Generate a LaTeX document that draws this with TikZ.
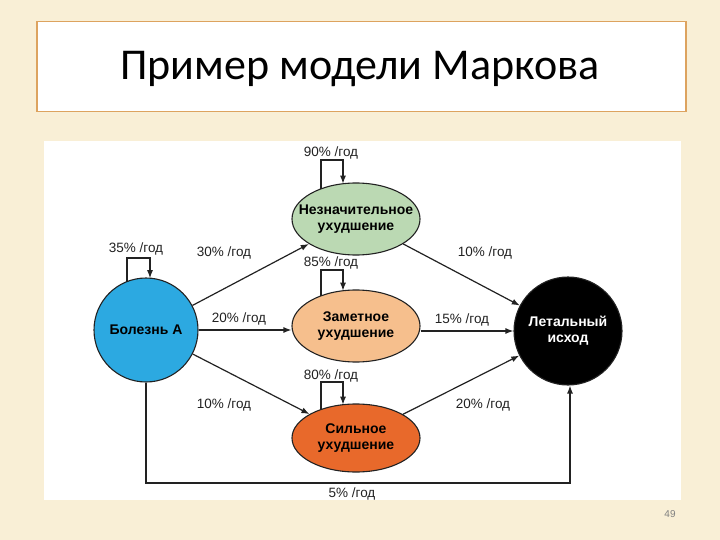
\documentclass[tikz,border=0pt]{standalone}
\usepackage{fontspec}
\setmainfont{Liberation Sans}
\newfontfamily\titlefont{Carlito}
\usetikzlibrary{arrows.meta,calc,shapes.geometric}
\definecolor{cream}{HTML}{F9EFD6}
\definecolor{framec}{HTML}{DDA35F}
\definecolor{blueA}{HTML}{2CA9E1}
\definecolor{greenA}{HTML}{BBD9B3}
\definecolor{peachA}{HTML}{F6BF8D}
\definecolor{orangeA}{HTML}{E8692B}
\definecolor{edgec}{HTML}{222222}
\tikzset{
  state/.style={draw=edgec,line width=1.1pt,align=center,inner sep=0pt,
    font=\fontsize{14}{16}\selectfont\bfseries},
  ellstate/.style={state,ellipse,inner xsep=-14pt,minimum width=128pt,minimum height=72pt},
  circstate/.style={state,circle,minimum size=104pt},
  conn/.style={draw=edgec,line width=1.2pt,-{Latex[length=8pt,width=6pt]}},
  lab/.style={font=\fontsize{13.5}{15}\selectfont,text=edgec,inner sep=0pt}
}
\begin{document}
\begin{tikzpicture}[x=1pt,y=-1pt]
\useasboundingbox (0,0) rectangle (720,540);
\fill[cream] (0,0) rectangle (720,540);
% title
\node[draw=framec,line width=1.5pt,fill=white,minimum width=649pt,minimum height=90pt,anchor=north west,inner sep=0pt] (tbox) at (36,21) {};
\node[font=\titlefont\fontsize{44}{50}\selectfont,text=black] (title) at (360,69) {Пример модели Маркова};
% panel
\fill[white] (44,141) rectangle (681,500);
\node[font=\fontsize{10}{12}\selectfont,text=gray] (pnum) at (670,514) {49};
% nodes
\node[circstate,fill=blueA] (b) at (146,330) {Болезнь А};
\node[ellstate,fill=greenA] (n) at (356,219) {Незначительное\\ухудшение};
\node[ellstate,fill=peachA] (z) at (356,326) {Заметное\\ухудшение};
\node[ellstate,fill=orangeA,minimum height=68pt] (s) at (356,438) {Сильное\\ухудшение};
\node[circstate,fill=black,text=white,minimum size=108pt] (l) at (568,331) {Летальный\\исход};
% self loops
\draw[conn] ($(b.center)+(-19,-48.4)$) |- (150,258) coordinate (bt) -- ($(b.center)+(4,-51.8)$);
\draw[conn] ($(n.center)+(-35,-30.1)$) |- (343,160) coordinate (nt) -- ($(n.center)+(-13,-35.3)$);
\draw[conn] ($(z.center)+(-35,-30.1)$) |- (343,270) coordinate (zt) -- ($(z.center)+(-13,-35.3)$);
\draw[conn] ($(s.center)+(-35,-28.5)$) |- (343,382) coordinate (st) -- ($(s.center)+(-13,-33.3)$);
\node[lab] (lb) at (136,249) {35\% /год};
\node[lab] (ln) at (331,153) {90\% /год};
\node[lab] (lz) at (331,263) {85\% /год};
\node[lab] (ls) at (331,376) {80\% /год};
% transitions
\draw[conn] (b) -- (n);
\draw[conn] (b.east) -- (z.west |- b.east);
\draw[conn] (b) -- (s);
\draw[conn] (n) -- (l);
\draw[conn] (z.east |- l.west) -- (l.west);
\draw[conn] (s) -- (l);
\draw[conn] (b.south) -- (146,483) coordinate (c1) -- (570,483) coordinate (c2) -- (l.south -| c2);
\node[lab] (l30) at (224,253) {30\% /год};
\node[lab] (l20) at (239,319) {20\% /год};
\node[lab] (l10a) at (224,405) {10\% /год};
\node[lab] (l10b) at (485,253) {10\% /год};
\node[lab] (l15) at (462,320) {15\% /год};
\node[lab] (l20b) at (483,405) {20\% /год};
\node[lab] (l5) at (352,494) {5\% /год};
\end{tikzpicture}
\end{document}
